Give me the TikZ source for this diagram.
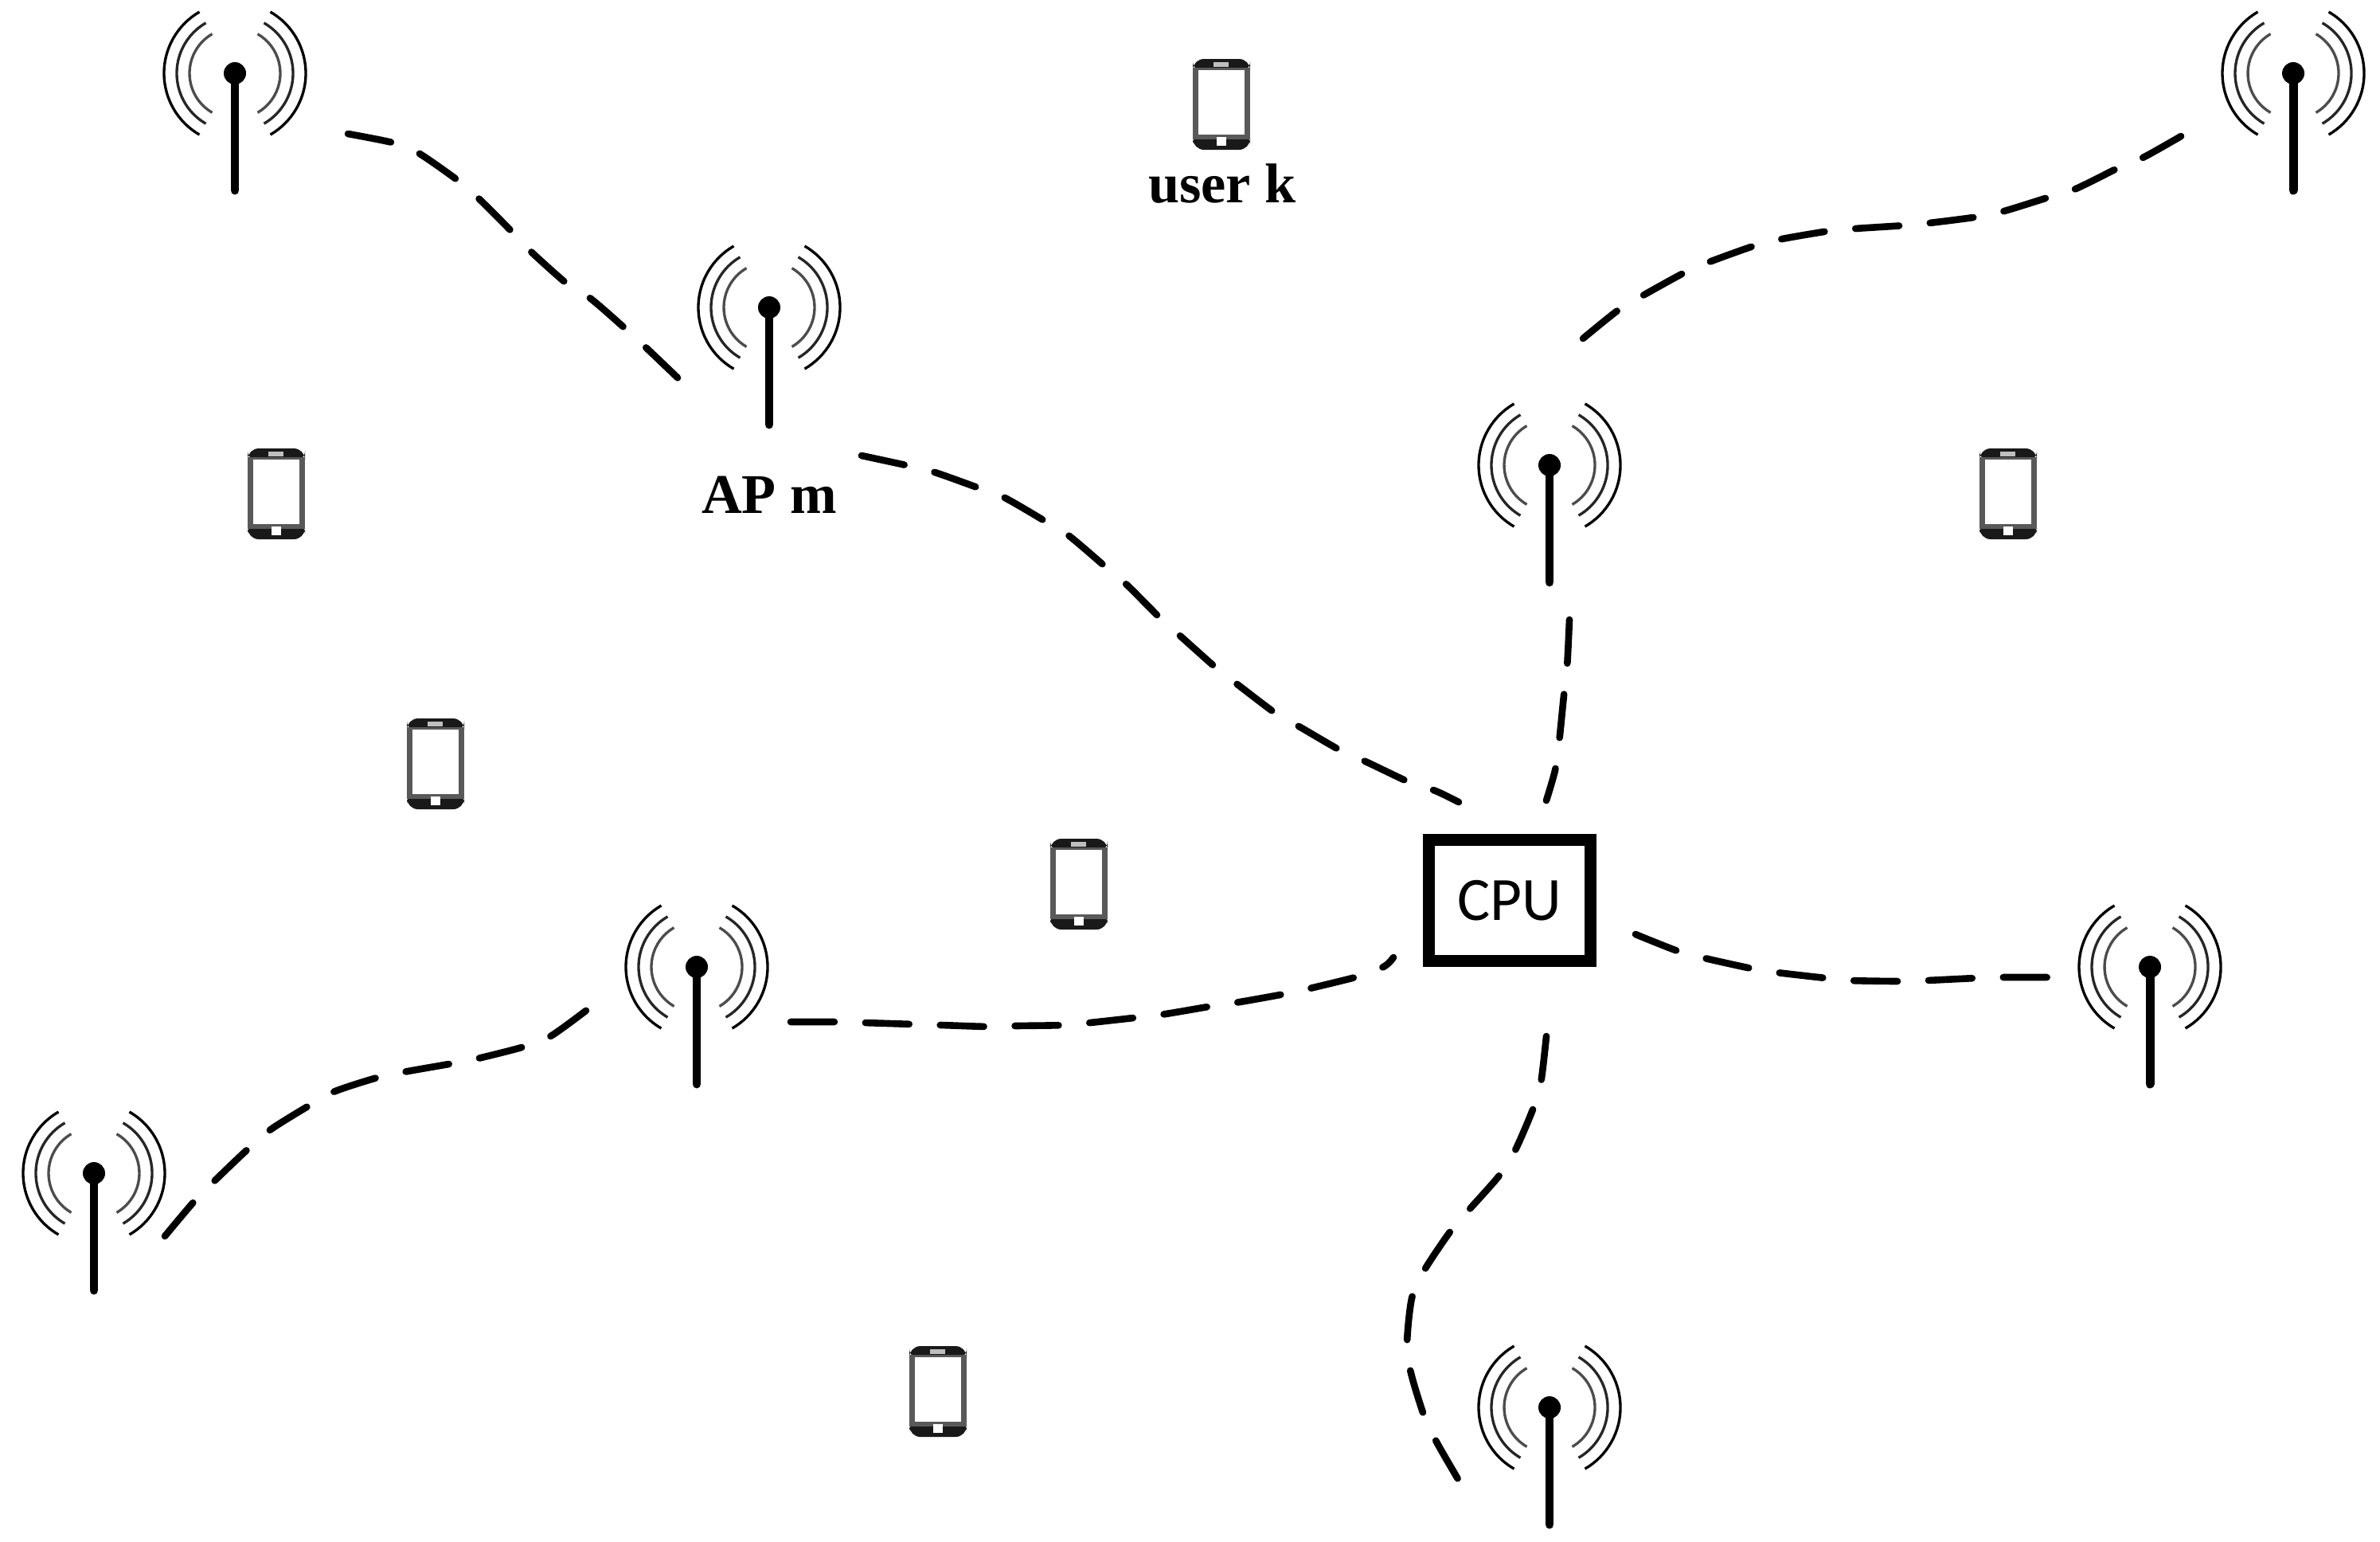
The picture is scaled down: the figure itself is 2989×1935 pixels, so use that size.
\documentclass[tikz,border=0pt]{standalone}
\usepackage{fontspec}
\setmainfont{Liberation Serif}
\setsansfont{Carlito}
\usetikzlibrary{positioning}

\begin{document}
\begin{tikzpicture}[x=0.01cm,y=-0.01cm,
  wire/.style={line width=2.45pt,line cap=round,dash pattern=on 15.6pt off 11.1pt},
  radio/.style={line width=0.95pt},
  mast/.style={line width=3.1pt,line cap=round},
  label/.style={font=\fontsize{20}{22}\selectfont\bfseries,anchor=base},
  cpubox/.style={draw,line width=4.27pt,minimum width=2.03cm,minimum height=1.52cm,inner sep=0pt,
    font=\fontsize{22}{26}\selectfont\sffamily},
  antenna/.pic={
    \draw[mast] (0,0) -- (0,147);
    \fill (0,0) circle (14);
    \draw[radio,black!70] (-60:57) arc (-60:60:57);
    \draw[radio,black!85] (-60:73) arc (-60:60:73);
    \draw[radio] (-60:89) arc (-60:60:89);
    \draw[radio,black!70] (120:57) arc (120:240:57);
    \draw[radio,black!85] (120:73) arc (120:240:73);
    \draw[radio] (120:89) arc (120:240:89);
  },
  phone/.pic={
    \fill[black!90,rounded corners=4pt] (-36,-57) rectangle (36,-40);
    \fill[black!90,rounded corners=4pt] (-36,36) rectangle (36,57);
    \fill[black!65] (-36,-46) rectangle (36,44);
    \fill[white] (-29,-43) rectangle (29,38);
    \fill[black!25] (-10,-53) rectangle (9,-47);
    \fill[white] (-6,41) rectangle (6,52);
  }]
\useasboundingbox (0,0) rectangle (2989,1935);

\pic (apa) at (295,92) {antenna};
\pic (apm) at (966,386) {antenna};
\pic (apb) at (2880,92) {antenna};
\pic (apc) at (1946,584) {antenna};
\pic (apd) at (875,1214) {antenna};
\pic (ape) at (118,1473) {antenna};
\pic (apf) at (2700,1214) {antenna};
\pic (apg) at (1946,1767) {antenna};

\pic (ue) at (1534,131) {phone};
\pic (ua) at (347,620) {phone};
\pic (ub) at (2522,620) {phone};
\pic (uc) at (547,959) {phone};
\pic (ud) at (1355,1110) {phone};
\pic (uf) at (1178,1747) {phone};

\node[label] (userk) at (1535,254) {user k};
\node[label] (apmlabel) at (966,644) {AP m};
\node[cpubox] (cpu) at (1896,1130.5) {CPU};

\coordinate (apaout) at (437,168);
\coordinate (apmin) at (857,480);
\coordinate (apmout) at (1082,572);
\coordinate (cpua) at (1832,1007);
\coordinate (cpub) at (1942,1005);
\coordinate (apcout) at (1971,778);
\coordinate (apcup) at (1988,425);
\coordinate (apbin) at (2746,167);
\coordinate (apdout) at (993,1283);
\coordinate (cpuc) at (1750,1202);
\coordinate (apein) at (207,1552);
\coordinate (apdin) at (741,1265);
\coordinate (cpud) at (2054,1173);
\coordinate (apfin) at (2575,1227);
\coordinate (cpue) at (1942,1301);
\coordinate (apgin) at (1834,1862);

\draw[wire] plot[smooth] coordinates {(apaout) (497,180) (527,193) (577,228) (602,250) (645,293) (668,317) (713,357) (742,375) (788,415) (813,438) (apmin)};

\draw[wire] plot[smooth] coordinates {(apmout) (1142,585) (1174,593) (1230,613) (1262,625) (1317,657) (1343,673) (1390,713) (1416,735) (1458,777) (1484,800) (1529,840) (1555,860) (1604,897) (1633,913) (1685,943) (1717,957) (1772,983) (1803,993) (cpua)};

\draw[wire] plot[smooth] coordinates {(apcout) (1968,838) (1964,873) (1958,932) (1953,967) (cpub)};

\draw[wire] plot[smooth] coordinates {(apcup) (2034,388) (2065,370) (2116,342) (2149,328) (2205,308) (2238,300) (2297,290) (2330,287) (2392,283) (2423,280) (2485,272) (2517,265) (2575,247) (2607,237) (2662,210) (2693,197) (apbin)};

\draw[wire] plot[smooth] coordinates {(apdout) (1055,1283) (1086,1284) (1148,1286) (1182,1287) (1243,1289) (1275,1288) (1337,1287) (1369,1284) (1432,1277) (1464,1273) (1523,1263) (1557,1258) (1618,1247) (1649,1240) (1709,1225) (1739,1213) (cpuc)};

\draw[wire] plot[smooth] coordinates {(apein) (245,1507) (270,1482) (312,1442) (340,1418) (390,1387) (421,1370) (477,1352) (512,1345) (569,1335) (604,1328) (662,1313) (693,1300) (apdin)};

\draw[wire] plot[smooth] coordinates {(cpud) (2107,1194) (2141,1203) (2200,1216) (2232,1221) (2293,1228) (2324,1231) (2388,1232) (2419,1231) (2481,1228) (2514,1227) (apfin)};

\draw[wire] plot[smooth] coordinates {(cpue) (1935,1360) (1925,1393) (1902,1446) (1882,1477) (1843,1521) (1820,1548) (1788,1596) (1773,1630) (1767,1688) (1772,1724) (1789,1779) (1805,1812) (apgin)};
\end{tikzpicture}
\end{document}
